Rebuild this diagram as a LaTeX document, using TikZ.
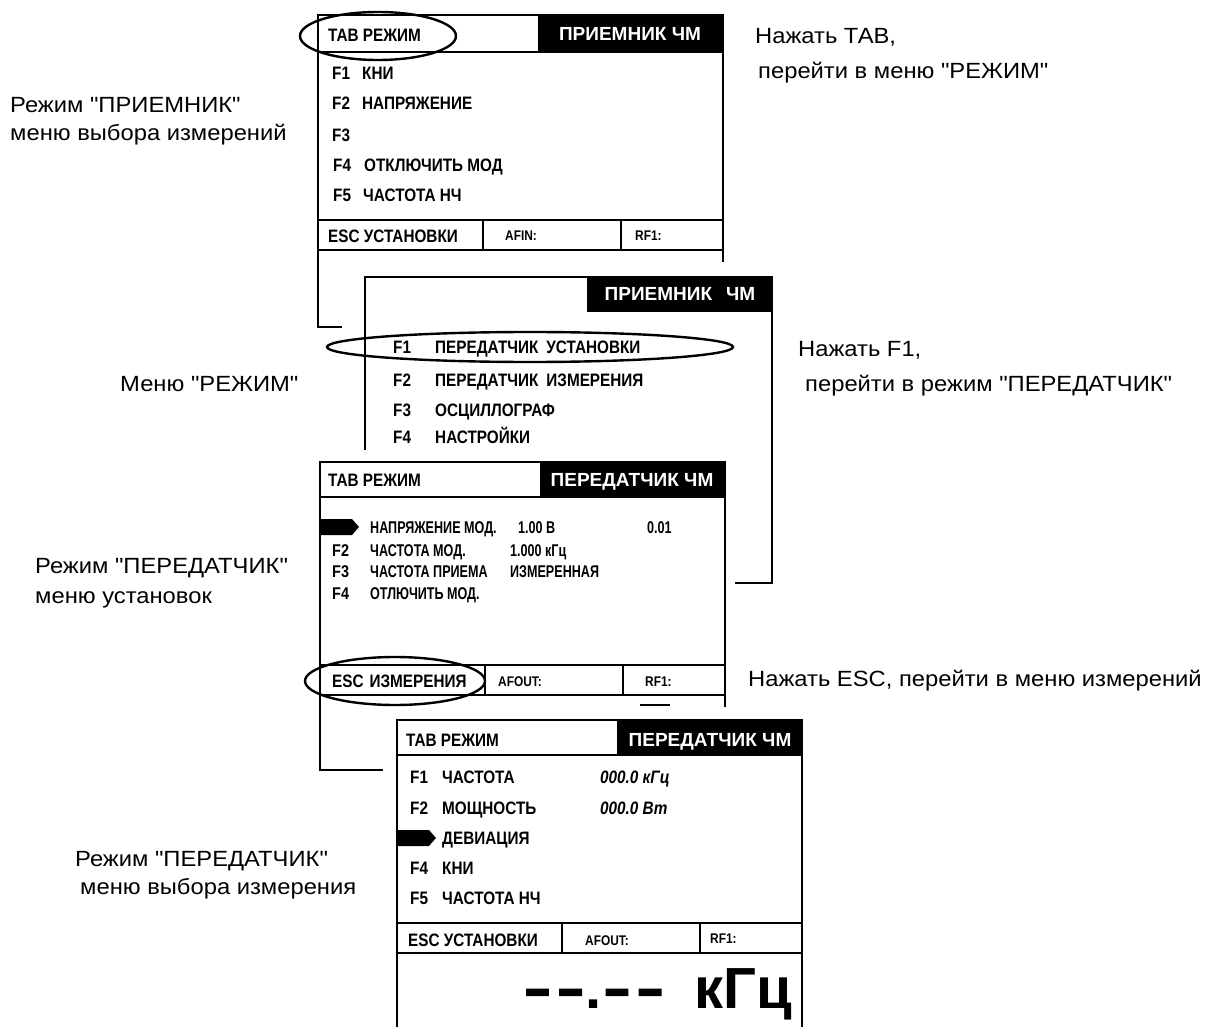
\documentclass[tikz,border=0pt]{standalone}
\usepackage{fontspec}
\usepackage{graphicx}
\setmainfont{Liberation Sans}[Ligatures=TeXOff]
\newfontfamily\notef{Liberation Sans}[Ligatures=TeXOff,FakeStretch=1.08]
\newfontfamily\lcdf{Liberation Sans}[Ligatures=TeXOff,FakeStretch=0.85]
\newfontfamily\pixf{Liberation Sans}[Ligatures=TeXOff,FakeStretch=0.74]
\newfontfamily\bigf{Liberation Sans}[Ligatures=TeXOff,FakeStretch=1.0]
\newcommand\lcdfont{\lcdf\bfseries\fontsize{18}{20}\selectfont}
\newcommand\smlfont{\lcdf\bfseries\fontsize{14}{16}\selectfont}
\newcommand\pixfont{\pixf\bfseries\fontsize{17}{19}\selectfont}
\newcommand\hdrfont{\bfseries\fontsize{19}{21}\selectfont}
\newcommand\notefont{\notef\fontsize{22}{24}\selectfont}
\newcommand\bigfont{\bigf\bfseries\fontsize{58}{60}\selectfont}
\newcommand\thickdash{\scalebox{0.75}[1]{\addfontfeature{FakeBold=3}–}}
\begin{document}
\begin{tikzpicture}[x=1pt,y=-1pt,
  frame/.style={line width=2pt},
  oval/.style={line width=2.4pt},
  scr/.style={font=\lcdfont, anchor=west, inner sep=0pt, text height=13pt, text depth=0pt},
  sml/.style={font=\smlfont, anchor=west, inner sep=0pt, text height=10pt, text depth=0pt},
  pix/.style={font=\pixfont, anchor=west, inner sep=0pt, text height=12pt, text depth=0pt},
  hdr/.style={font=\hdrfont, text=white, inner sep=0pt, text height=14pt, text depth=0pt},
  note/.style={font=\notefont, anchor=west, inner sep=0pt, text height=16pt, text depth=0pt}]
\useasboundingbox (0,0) rectangle (1227,1027);
\fill[white] (0,0) rectangle (1227,1027);

% ---------- screen 1 ----------
\fill (538,15) rectangle (723,52);
\draw[frame] (342,327) -- (318,327) -- (318,15) -- (723,15) -- (723,262);
\draw[frame] (318,52) -- (723,52);
\draw[frame] (318,220) -- (723,220) (318,250) -- (723,250)
             (483,220) -- (483,250) (621,220) -- (621,250);
\node[scr] (s1tab) at (328,35) {ТАВ РЕЖИМ};
\node[hdr] (s1hdr) at (630,34) {ПРИЕМНИК ЧМ};
\node[scr] (s1f1) at (332,73) {F1};  \node[scr] (s1t1) at (362,73) {КНИ};
\node[scr] (s1f2) at (332,103) {F2}; \node[scr] (s1t2) at (362,103) {НАПРЯЖЕНИЕ};
\node[scr] (s1f3) at (332,135) {F3};
\node[scr] (s1f4) at (333,165) {F4}; \node[scr] (s1t4) at (364,165) {ОТКЛЮЧИТЬ МОД};
\node[scr] (s1f5) at (333,195) {F5}; \node[scr] (s1t5) at (363,195) {ЧАСТОТА НЧ};
\node[scr] (s1esc) at (328,236) {ESC УСТАНОВКИ};
\node[sml] (s1af) at (505,236) {AFIN:};
\node[sml] (s1rf) at (635,236) {RF1:};
\draw[oval] (378,36) ellipse [x radius=78, y radius=24];

% ---------- screen 2 ----------
\fill (587,277) rectangle (772,312);
\draw[frame] (365,450) -- (365,277) -- (772,277) -- (772,583) -- (735,583);
\node[hdr] (s2hdr) at (680,294) {ПРИЕМНИК\hspace{14pt}ЧМ};
\node[scr] (s2f1) at (393,347) {F1}; \node[scr] (s2t1) at (435,347) {ПЕРЕДАТЧИК\hspace{8pt}УСТАНОВКИ};
\node[scr] (s2f2) at (393,380) {F2}; \node[scr] (s2t2) at (435,380) {ПЕРЕДАТЧИК\hspace{8pt}ИЗМЕРЕНИЯ};
\node[scr] (s2f3) at (393,410) {F3}; \node[scr] (s2t3) at (435,410) {ОСЦИЛЛОГРАФ};
\node[scr] (s2f4) at (393,437) {F4}; \node[scr] (s2t4) at (435,437) {НАСТРОЙКИ};
\draw[oval] (530,347) ellipse [x radius=203, y radius=15];

% ---------- screen 3 ----------
\fill (540,462) rectangle (725,497);
\draw[frame] (383,770) -- (320,770) -- (320,462) -- (725,462) -- (725,707);
\draw[frame] (320,497) -- (725,497);
\draw[frame] (320,665) -- (725,665) (320,695) -- (725,695)
             (485,665) -- (485,695) (623,665) -- (623,695);
\draw[frame] (640,705) -- (670,705);
\node[scr] (s3tab) at (328,480) {ТАВ РЕЖИМ};
\node[hdr] (s3hdr) at (632,479) {ПЕРЕДАТЧИК ЧМ};
\fill (320,519) -- (352,519) -- (359,527) -- (352,535) -- (320,535) -- cycle;
\node[pix] (s3t1) at (370,527) {НАПРЯЖЕНИЕ МОД.};
\node[pix] (s3v1) at (518,527) {1.00 В};
\node[pix] (s3s1) at (647,527) {0.01};
\node[scr,font=\lcdf\bfseries\fontsize{17}{19}\selectfont] (s3f2) at (332,550) {F2}; \node[pix] (s3t2) at (370,550) {ЧАСТОТА МОД.};
\node[pix] (s3v2) at (510,550) {1.000 кГц};
\node[scr,font=\lcdf\bfseries\fontsize{17}{19}\selectfont] (s3f3) at (332,571) {F3}; \node[pix] (s3t3) at (370,571) {ЧАСТОТА ПРИЕМА};
\node[pix] (s3v3) at (510,571) {ИЗМЕРЕННАЯ};
\node[scr,font=\lcdf\bfseries\fontsize{17}{19}\selectfont] (s3f4) at (332,593) {F4}; \node[pix] (s3t4) at (370,593) {ОТЛЮЧИТЬ МОД.};
\node[scr] (s3esc) at (332,681) {ESC\hspace{6pt}ИЗМЕРЕНИЯ};
\node[sml] (s3af) at (498,681) {AFOUT:};
\node[sml] (s3rf) at (645,681) {RF1:};
\draw[oval] (395,681) ellipse [x radius=90, y radius=24];

% ---------- screen 4 ----------
\fill (617,720) rectangle (802,755);
\draw[frame] (397,1030) -- (397,720) -- (802,720) -- (802,1030);
\draw[frame] (397,755) -- (802,755);
\draw[frame] (397,923) -- (802,923) (397,953) -- (802,953)
             (562,923) -- (562,953) (700,923) -- (700,953);
\node[scr] (s4tab) at (406,740) {ТАВ РЕЖИМ};
\node[hdr] (s4hdr) at (710,739) {ПЕРЕДАТЧИК ЧМ};
\node[scr] (s4f1) at (410,777) {F1}; \node[scr] (s4t1) at (442,777) {ЧАСТОТА};
\node[scr,font=\lcdfont\itshape] (s4v1) at (600,777) {000.0 кГц};
\node[scr] (s4f2) at (410,808) {F2}; \node[scr] (s4t2) at (442,808) {МОЩНОСТЬ};
\node[scr,font=\lcdfont\itshape] (s4v2) at (600,808) {000.0 Вт};
\fill (397,830) -- (429,830) -- (436,838) -- (429,846) -- (397,846) -- cycle;
\node[scr] (s4t3) at (442,838) {ДЕВИАЦИЯ};
\node[scr] (s4f4) at (410,868) {F4}; \node[scr] (s4t4) at (442,868) {КНИ};
\node[scr] (s4f5) at (410,898) {F5}; \node[scr] (s4t5) at (442,898) {ЧАСТОТА НЧ};
\node[scr] (s4esc) at (408,940) {ESC УСТАНОВКИ};
\node[sml] (s4af) at (585,940) {AFOUT:};
\node[sml] (s4rf) at (710,938) {RF1:};
\node[anchor=base east, inner sep=0pt, font=\bigfont] (big) at (792,1008)
  {\thickdash\hspace{9pt}\thickdash\hspace{3pt}.\hspace{3pt}\thickdash\hspace{9pt}\thickdash\hspace{32pt}кГц};

% ---------- notes ----------
\node[note] (n1a) at (755,36) {Нажать ТАВ,};
\node[note] (n1b) at (758,71) {перейти в меню "РЕЖИМ"};
\node[note] (l1a) at (10,105) {Режим "ПРИЕМНИК"};
\node[note] (l1b) at (10,133) {меню выбора измерений};
\node[note] (l2) at (120,383) {Меню "РЕЖИМ"};
\node[note] (n2a) at (798,348) {Нажать F1,};
\node[note] (n2b) at (805,383) {перейти в режим "ПЕРЕДАТЧИК"};
\node[note] (l3a) at (35,565) {Режим "ПЕРЕДАТЧИК"};
\node[note] (l3b) at (35,595) {меню установок};
\node[note] (n3) at (748,678) {Нажать ESC, перейти в меню измерений};
\node[note] (l4a) at (75,858) {Режим "ПЕРЕДАТЧИК"};
\node[note] (l4b) at (80,886) {меню выбора измерения};
\end{tikzpicture}
\end{document}
